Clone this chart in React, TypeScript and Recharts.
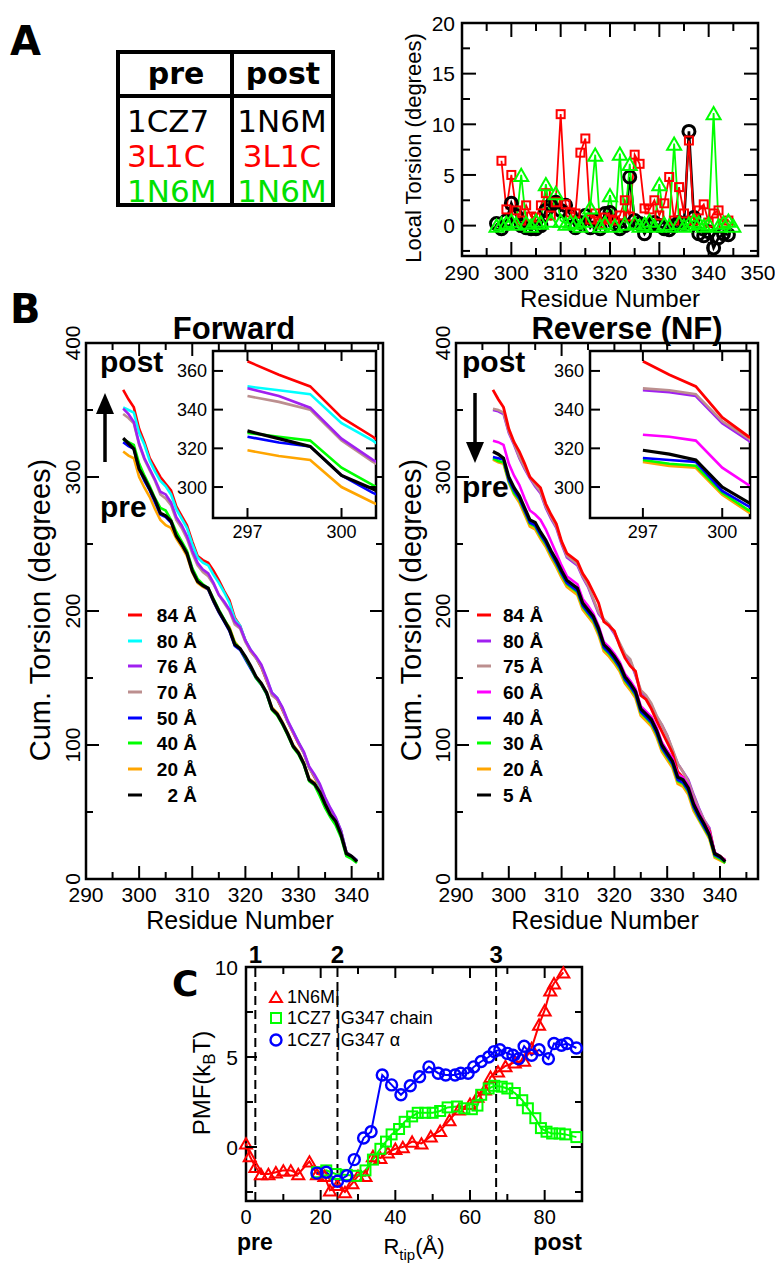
import React from 'react';
import { ComposedChart, Line, XAxis, YAxis, ReferenceArea, ReferenceLine } from 'recharts';

const SANS = '"Liberation Sans", Arial, Helvetica, sans-serif';
const DEJA = '"DejaVu Sans", sans-serif';

// ---------- Panel A: local torsion per residue ----------
const localResidues = [
  297, 298, 299, 300, 301, 302, 303, 304, 305, 306, 307, 308, 309, 310, 311, 312, 313,
  314, 315, 316, 317, 318, 319, 320, 321, 322, 323, 324, 325, 326, 327, 328, 329, 330,
  331, 332, 333, 334, 335, 336, 337, 338, 339, 340, 341, 342, 343, 344, 345,
];
const local1CZ7 = [
  0.2, -0.3, 0.5, 2.2, 1.0, 0.0, -0.2, -0.3, -0.3, 0.0, 1.5, 2.0, 2.3, 1.5, 2.0, 1.0, -0.2,
  0.3, 1.0, -0.2, 0.5, -0.3, 1.2, 1.3, 0.2, -0.3, 0.0, 4.8, 0.5, 0.2, -0.8, 0.0, 0.3, 0.0,
  -0.3, -0.4, 0.0, 0.3, 0.2, 9.3, 0.8, -0.8, -1.0, -0.6, -2.2, -1.2, -0.8, -0.9, null,
];
const local3L1C = [
  null, 6.4, 1.6, 5.0, 1.5, 0.5, 2.0, 0.9, 0.8, 2.0, 3.2, 1.0, 2.3, 11.0, 2.1, 1.3, 1.2,
  7.2, 8.6, 0.6, 1.2, 0.2, 0.8, 0.6, 0.5, 1.0, 2.5, 0.9, 7.0, 6.1, 1.7, 1.6, 2.5, 1.0,
  2.2, 4.8, 0.5, 3.8, 1.2, 8.4, 0.5, 1.5, 2.1, 0.3, 1.2, 1.5, 0.2, 0.5, null,
];
const local1N6M = [
  0.0, 0.2, 0.3, 0.5, 0.2, 5.0, 0.3, 0.0, 0.5, 0.3, 4.1, 0.5, 3.2, 0.5, 0.2, 0.4, 0.3,
  0.0, 0.5, 1.8, 7.0, 0.0, 0.3, 3.0, 0.0, 7.1, 0.2, 6.1, 0.3, 0.0, 0.2, 0.5, 0.0, 4.1,
  0.2, 0.0, 8.1, 0.3, 0.0, 0.2, 0.5, 0.3, 0.0, 0.2, 11.1, 0.0, 0.3, 0.5, 0.0,
];
const localXTicks = [290, 295, 300, 305, 310, 315, 320, 325, 330, 335, 340, 345, 350];
const localXMajor = [290, 300, 310, 320, 330, 340, 350];
const localYTicks = [-2.5, 0, 2.5, 5, 7.5, 10, 12.5, 15, 17.5, 20];
const localYMajor = [0, 5, 10, 15, 20];

const tableHead = ['pre', 'post'];
const tablePre = ['1CZ7', '3L1C', '1N6M'];
const tablePost = ['1N6M', '3L1C', '1N6M'];
const tableColors = ['#000000', '#ff0000', '#00e000'];

// ---------- Panel B: cumulative torsion, residues 297-341 ----------
const cumResidues = [
  297, 298, 299, 300, 301, 302, 303, 304, 305, 306, 307, 308, 309, 310, 311, 312, 313, 314,
  315, 316, 317, 318, 319, 320, 321, 322, 323, 324, 325, 326, 327, 328, 329, 330, 331, 332,
  333, 334, 335, 336, 337, 338, 339, 340, 341,
];
// Forward
const fwd84 = [365, 358, 352, 336, 326, 314, 307, 300, 295, 290, 278, 271, 264, 252, 241, 238, 236, 230, 223, 215, 208, 195, 189, 178, 170, 165, 158, 148, 138, 134, 126, 117, 109, 101, 94, 83, 76, 69, 60, 51, 44, 35, 20, 17, 14];
const fwd80 = [352, 350, 348, 333, 324, 312, 304, 297, 293, 287, 276, 269, 262, 250, 240, 236, 234, 227, 221, 214, 206, 194, 189, 178, 171, 165, 159, 149, 139, 135, 127, 117, 110, 102, 94, 83, 77, 69, 60, 52, 45, 36, 20, 17, 14];
const fwd76 = [351, 347, 341, 325, 314, 306, 298, 289, 287, 281, 270, 264, 256, 245, 236, 231, 228, 221, 212, 207, 201, 192, 188, 178, 171, 166, 160, 150, 139, 135, 128, 118, 110, 102, 95, 84, 78, 71, 61, 53, 46, 36, 20, 17, 14];
const fwd70 = [347, 344, 340, 324, 313, 305, 297, 287, 284, 279, 268, 262, 254, 243, 234, 229, 226, 220, 212, 206, 200, 190, 187, 177, 170, 165, 159, 148, 137, 134, 127, 117, 109, 102, 94, 83, 77, 70, 60, 52, 45, 36, 20, 17, 13];
const fwd50 = [326, 323, 321, 306, 297, 290, 281, 272, 270, 266, 257, 250, 243, 231, 223, 219, 216, 207, 199, 192, 185, 174, 171, 164, 157, 150, 145, 138, 127, 123, 116, 108, 99, 94, 86, 74, 71, 64, 55, 47, 42, 33, 19, 17, 13];
const fwd40 = [328, 326, 324, 310, 301, 293, 284, 277, 275, 268, 259, 252, 245, 232, 224, 220, 217, 209, 201, 194, 187, 176, 172, 165, 158, 150, 145, 138, 126, 122, 115, 107, 98, 93, 85, 73, 70, 62, 53, 46, 40, 31, 17, 15, 12];
const fwd20 = [319, 316, 314, 300, 292, 285, 276, 268, 264, 262, 254, 248, 241, 229, 221, 218, 216, 207, 199, 193, 188, 177, 172, 165, 158, 151, 146, 139, 128, 124, 117, 109, 100, 95, 87, 75, 72, 65, 55, 48, 42, 33, 19, 17, 13];
const fwd2 = [329, 325, 321, 306, 299, 291, 283, 273, 271, 267, 256, 250, 243, 230, 222, 219, 217, 208, 200, 193, 186, 175, 172, 166, 159, 151, 146, 139, 127, 123, 116, 108, 99, 94, 86, 74, 71, 65, 56, 48, 43, 33, 19, 17, 13];
// Reverse (NF)
const rev84 = [365, 358, 352, 336, 326, 319, 310, 300, 296, 292, 280, 272, 265, 252, 243, 240, 237, 228, 222, 214, 206, 192, 189, 185, 174, 165, 159, 155, 137, 134, 127, 118, 110, 102, 94, 80, 76, 66, 57, 49, 42, 36, 19, 17, 14];
const rev80 = [350, 349, 347, 333, 324, 314, 306, 299, 293, 288, 277, 269, 262, 250, 240, 237, 234, 225, 218, 208, 198, 193, 189, 183, 175, 167, 163, 152, 140, 136, 130, 121, 115, 107, 96, 86, 80, 74, 63, 53, 44, 38, 19, 17, 14];
const rev75 = [351, 350, 348, 334, 325, 315, 307, 300, 294, 289, 278, 270, 263, 251, 241, 238, 235, 226, 219, 209, 199, 194, 190, 184, 176, 168, 164, 153, 141, 137, 131, 122, 115, 107, 97, 86, 80, 73, 62, 52, 44, 37, 19, 17, 14];
const rev60 = [327, 326, 324, 310, 301, 294, 284, 275, 272, 268, 261, 252, 243, 234, 226, 223, 220, 209, 204, 198, 189, 177, 173, 168, 162, 153, 148, 142, 129, 125, 121, 113, 102, 96, 90, 78, 76, 70, 58, 50, 42, 35, 20, 17, 14];
const rev40 = [315, 314, 313, 298, 290, 284, 275, 266, 264, 257, 251, 243, 236, 228, 221, 218, 215, 204, 199, 194, 185, 173, 169, 164, 158, 149, 144, 138, 125, 121, 117, 109, 98, 92, 86, 74, 72, 66, 54, 46, 39, 32, 18, 16, 13];
const rev30 = [314, 312, 311, 297, 288, 283, 274, 265, 263, 256, 250, 242, 235, 227, 220, 217, 214, 203, 198, 193, 184, 172, 168, 163, 157, 148, 143, 137, 124, 120, 116, 108, 97, 91, 85, 73, 71, 65, 53, 45, 38, 31, 17, 15, 12];
const rev20 = [313, 311, 310, 296, 287, 281, 272, 263, 261, 254, 248, 240, 233, 225, 218, 215, 212, 201, 196, 191, 182, 170, 166, 161, 155, 146, 141, 135, 122, 118, 114, 106, 95, 89, 83, 71, 69, 63, 51, 44, 37, 30, 16, 14, 12];
const rev5 = [319, 317, 314, 300, 292, 286, 277, 268, 266, 259, 253, 245, 238, 230, 223, 220, 217, 206, 201, 196, 187, 175, 171, 166, 160, 151, 146, 140, 127, 123, 119, 111, 100, 94, 88, 76, 74, 68, 56, 48, 41, 33, 19, 17, 13];

const cumXTicks = [290, 295, 300, 305, 310, 315, 320, 325, 330, 335, 340, 345];
const cumXMajor = [290, 300, 310, 320, 330, 340];
const cumYTicks = [0, 50, 100, 150, 200, 250, 300, 350, 400];
const cumYMajor = [0, 100, 200, 300, 400];
const insetXTicks = [297, 300];
const insetYTicks = [300, 320, 340, 360];

const fwdLabels = ['84 Å', '80 Å', '76 Å', '70 Å', '50 Å', '40 Å', '20 Å', '2 Å'];
const revLabels = ['84 Å', '80 Å', '75 Å', '60 Å', '40 Å', '30 Å', '20 Å', '5 Å'];

// ---------- Panel C: PMF along R_tip ----------
const pmf1N6M_R = [0, 1, 2.5, 4, 6, 8, 10, 12, 14, 17, 19, 21, 22.5, 24.5, 26.5, 28.5, 30, 32, 34, 36, 38, 40, 42, 44.5, 47, 49.5, 52, 54.5, 57, 60, 62, 64, 65.5, 67.5, 69.5, 72, 74.5, 76.5, 78.5, 80, 81.5, 82.5, 85];
const pmf1N6M = [0.2, -0.5, -1.1, -1.5, -1.5, -1.4, -1.3, -1.3, -1.5, -0.8, -1.5, -1.6, -2.4, -2.1, -2.5, -2.0, -1.6, -1.6, -0.5, -0.6, -0.3, -0.1, 0.0, 0.3, 0.2, 0.6, 0.9, 1.5, 2.1, 2.4, 2.8, 3.2, 3.9, 4.2, 4.5, 4.7, 4.8, 5.5, 6.8, 7.6, 8.7, 9.1, 9.7];
const pmfChain_R = [19, 21.5, 24, 27, 29.5, 32, 34, 36, 37.5, 39, 41, 42.5, 44.5, 46, 48, 50, 52, 54, 56.5, 58.5, 60.5, 62, 63, 65, 66.5, 68.5, 70, 72, 74, 75.5, 77.5, 79, 80.5, 82, 84, 85.5, 88.5];
const pmfChain = [-1.4, -1.3, -1.5, -1.55, -1.6, -1.3, -0.7, -0.1, 0.3, 0.7, 1.0, 1.4, 1.7, 1.9, 1.9, 1.9, 2.0, 2.2, 2.25, 2.15, 2.1, 2.3, 2.9, 3.25, 3.4, 3.35, 3.25, 3.0, 2.6, 2.15, 1.6, 1.05, 0.85, 0.75, 0.75, 0.7, 0.55];
const pmfAlpha_R = [19, 21.5, 24.5, 27, 29, 31.5, 33.5, 36.5, 39, 41.5, 44, 46.5, 49, 51.5, 53.5, 56, 57.5, 59.5, 61, 63, 65, 66.5, 68, 70, 71.5, 73, 74.5, 76.5, 78.5, 81, 82.5, 84.5, 86, 88.5];
const pmfAlpha = [-1.45, -1.4, -1.9, -1.6, -0.7, 0.5, 0.85, 4.0, 3.45, 2.9, 3.4, 3.9, 4.45, 4.1, 4.0, 4.0, 4.1, 4.1, 4.45, 4.75, 5.0, 5.3, 5.4, 5.2, 5.1, 4.9, 5.6, 5.1, 5.4, 4.9, 5.75, 5.65, 5.75, 5.5];
const stageR = [2.5, 24.5, 67];
const stageLabels = ['1', '2', '3'];
const pmfXTicks = [0, 10, 20, 30, 40, 50, 60, 70, 80];
const pmfXMajor = [0, 20, 40, 60, 80];
const pmfYTicks = [-2.5, 0, 2.5, 5, 7.5, 10];
const pmfYMajor = [0, 5, 10];
const pmfLegend = ['1N6M|', '1CZ7 |G347 chain', '1CZ7 |G347 α'];

// ---------- styles ----------
const fwdStyle = [
  { key: 'f84', color: '#ff0000', w: 2.6 },
  { key: 'f80', color: '#00ffff', w: 2.6 },
  { key: 'f70', color: '#bc8f8f', w: 2.6 },
  { key: 'f76', color: '#a020f0', w: 2.6 },
  { key: 'f20', color: '#ffa500', w: 2.6 },
  { key: 'f50', color: '#0000ff', w: 2.6 },
  { key: 'f40', color: '#00ff00', w: 2.6 },
  { key: 'f2', color: '#000000', w: 3.2 },
];
const fwdLegendColors = ['#ff0000', '#00ffff', '#a020f0', '#bc8f8f', '#0000ff', '#00ff00', '#ffa500', '#000000'];
const revStyle = [
  { key: 'r80', color: '#a020f0', w: 2.6 },
  { key: 'r75', color: '#bc8f8f', w: 2.6 },
  { key: 'r84', color: '#ff0000', w: 2.8 },
  { key: 'r60', color: '#ff00ff', w: 2.6 },
  { key: 'r20', color: '#ffa500', w: 2.8 },
  { key: 'r30', color: '#00ff00', w: 2.6 },
  { key: 'r40', color: '#0000ff', w: 2.6 },
  { key: 'r5', color: '#000000', w: 3.2 },
];
const revLegendColors = ['#ff0000', '#a020f0', '#bc8f8f', '#ff00ff', '#0000ff', '#00ff00', '#ffa500', '#000000'];

const cumRows = cumResidues.map((r, i) => ({
  r,
  f84: fwd84[i], f80: fwd80[i], f76: fwd76[i], f70: fwd70[i],
  f50: fwd50[i], f40: fwd40[i], f20: fwd20[i], f2: fwd2[i],
  r84: rev84[i], r80: rev80[i], r75: rev75[i], r60: rev60[i],
  r40: rev40[i], r30: rev30[i], r20: rev20[i], r5: rev5[i],
}));

// ---------- tick renderers (inward ticks on all four sides) ----------
type TickOpts = {
  span: number;
  major: number[];
  big: number;
  small: number;
  size?: number;
  off?: number;
  rotate?: boolean;
};

const bottomTick = (o: TickOpts) => (p: any) => {
  const v = p.payload.value as number;
  const isMajor = o.major.includes(v);
  const len = isMajor ? o.big : o.small;
  return (
    <g>
      <line x1={p.x} x2={p.x} y1={p.y} y2={p.y - len} stroke="#000" strokeWidth={2} />
      <line x1={p.x} x2={p.x} y1={p.y - o.span} y2={p.y - o.span + len} stroke="#000" strokeWidth={2} />
      {isMajor && o.size ? (
        <text x={p.x} y={p.y + (o.off ?? 20)} textAnchor="middle" fontSize={o.size} fontFamily={SANS} fill="#000">
          {v}
        </text>
      ) : null}
    </g>
  );
};

const leftTick = (o: TickOpts) => (p: any) => {
  const v = p.payload.value as number;
  const isMajor = o.major.includes(v);
  const len = isMajor ? o.big : o.small;
  const tx = p.x - (o.off ?? 6);
  return (
    <g>
      <line x1={p.x} x2={p.x + len} y1={p.y} y2={p.y} stroke="#000" strokeWidth={2} />
      <line x1={p.x + o.span} x2={p.x + o.span - len} y1={p.y} y2={p.y} stroke="#000" strokeWidth={2} />
      {isMajor && o.size ? (
        o.rotate ? (
          <text transform={`rotate(-90 ${tx} ${p.y})`} x={tx} y={p.y} textAnchor="middle" fontSize={o.size} fontFamily={SANS} fill="#000">
            {v}
          </text>
        ) : (
          <text x={tx} y={p.y} dy="0.36em" textAnchor="end" fontSize={o.size} fontFamily={SANS} fill="#000">
            {v}
          </text>
        )
      ) : null}
    </g>
  );
};

// ---------- markers ----------
const circleDot = (color: string, r: number, sw: number) => (p: any) =>
  p.cx == null || p.cy == null || p.value == null ? (
    <g key={p.index} />
  ) : (
    <circle key={p.index} cx={p.cx} cy={p.cy} r={r} fill="none" stroke={color} strokeWidth={sw} />
  );

const squareDot = (color: string, s: number, sw: number) => (p: any) =>
  p.cx == null || p.cy == null || p.value == null ? (
    <g key={p.index} />
  ) : (
    <rect key={p.index} x={p.cx - s / 2} y={p.cy - s / 2} width={s} height={s} fill="none" stroke={color} strokeWidth={sw} />
  );

const triangleDot = (color: string, a: number, sw: number) => (p: any) => {
  if (p.cx == null || p.cy == null || p.value == null) return <g key={p.index} />;
  const h = a * 0.87;
  const d = `M${p.cx},${p.cy - h / 2} L${p.cx + a / 2},${p.cy + h / 2} L${p.cx - a / 2},${p.cy + h / 2} Z`;
  return <path key={p.index} d={d} fill="none" stroke={color} strokeWidth={sw} strokeLinejoin="miter" />;
};

// ---------- Panel A chart ----------
function LocalTorsionChart() {
  const rows = localResidues.map((r, i) => ({ r, a: local1CZ7[i], b: local3L1C[i], c: local1N6M[i] }));
  return (
    <ComposedChart width={375} height={290} data={rows} margin={{ top: 13, right: 17, bottom: 0, left: 0 }}>
      <XAxis
        type="number" dataKey="r" domain={[290, 350]} ticks={localXTicks} interval={0}
        height={44} tickSize={0} tickMargin={0} tickLine={false} axisLine={false}
        tick={bottomTick({ span: 233, major: localXMajor, big: 14, small: 8, size: 21, off: 24 })}
      />
      <YAxis
        type="number" domain={[-3, 20]} ticks={localYTicks} interval={0}
        width={62} tickSize={0} tickMargin={0} tickLine={false} axisLine={false}
        tick={leftTick({ span: 296, major: localYMajor, big: 14, small: 8, size: 21, off: 7 })}
      />
      <ReferenceArea x1={290} x2={350} y1={-3} y2={20} fill="none" stroke="#000" strokeWidth={2.5} />
      <Line dataKey="a" stroke="#000" strokeWidth={2.6} dot={circleDot('#000', 6, 3)} isAnimationActive={false} />
      <Line dataKey="b" stroke="#ff0000" strokeWidth={1.8} dot={squareDot('#ff0000', 8, 2)} isAnimationActive={false} />
      <Line dataKey="c" stroke="#00ff00" strokeWidth={1.8} dot={triangleDot('#00ff00', 14, 2)} isAnimationActive={false} />
    </ComposedChart>
  );
}

// ---------- Panel B charts ----------
function CumChart({ styles, xMax, plotW }: { styles: typeof fwdStyle; xMax: number; plotW: number }) {
  return (
    <ComposedChart width={66 + plotW + 17} height={600} data={cumRows} margin={{ top: 23, right: 17, bottom: 0, left: 0 }}>
      <XAxis
        type="number" dataKey="r" domain={[290, xMax]} ticks={cumXTicks} interval={0}
        height={41} tickSize={0} tickMargin={0} tickLine={false} axisLine={false}
        tick={bottomTick({ span: 536, major: cumXMajor, big: 13, small: 7, size: 21, off: 23 })}
      />
      <YAxis
        type="number" domain={[0, 400]} ticks={cumYTicks} interval={0}
        width={66} tickSize={0} tickMargin={0} tickLine={false} axisLine={false}
        tick={leftTick({ span: plotW, major: cumYMajor, big: 13, small: 7, size: 21, off: 6, rotate: true })}
      />
      <ReferenceArea x1={290} x2={xMax} y1={0} y2={400} fill="none" stroke="#000" strokeWidth={2.5} />
      {styles.map((s) => (
        <Line key={s.key} dataKey={s.key} stroke={s.color} strokeWidth={s.w} dot={false} isAnimationActive={false} />
      ))}
    </ComposedChart>
  );
}

function InsetChart({ styles, xDomain, yAxisW, plotW }: { styles: typeof fwdStyle; xDomain: [number, number]; yAxisW: number; plotW: number }) {
  return (
    <ComposedChart width={yAxisW + plotW + 5} height={205} data={cumRows} margin={{ top: 10, right: 5, bottom: 0, left: 0 }}>
      <XAxis
        type="number" dataKey="r" domain={xDomain} allowDataOverflow ticks={insetXTicks} interval={0}
        height={28} tickSize={0} tickMargin={0} tickLine={false} axisLine={false}
        tick={bottomTick({ span: 167, major: insetXTicks, big: 10, small: 5, size: 18, off: 20 })}
      />
      <YAxis
        type="number" domain={[284, 370.3]} allowDataOverflow ticks={insetYTicks} interval={0}
        width={yAxisW} tickSize={0} tickMargin={0} tickLine={false} axisLine={false}
        tick={leftTick({ span: plotW, major: insetYTicks, big: 10, small: 5, size: 18, off: 6 })}
      />
      <ReferenceArea x1={xDomain[0]} x2={xDomain[1]} y1={284} y2={370.3} fill="none" stroke="#000" strokeWidth={2.5} />
      {styles.map((s) => (
        <Line key={s.key} dataKey={s.key} stroke={s.color} strokeWidth={s.w} dot={false} isAnimationActive={false} />
      ))}
    </ComposedChart>
  );
}

// ---------- Panel C chart ----------
function PmfChart() {
  const red = pmf1N6M_R.map((r, i) => ({ r, v: pmf1N6M[i] }));
  const green = pmfChain_R.map((r, i) => ({ r, v: pmfChain[i] }));
  const blue = pmfAlpha_R.map((r, i) => ({ r, v: pmfAlpha[i] }));
  return (
    <ComposedChart width={410} height={340} margin={{ top: 37, right: 8, bottom: 0, left: 0 }}>
      <XAxis
        type="number" dataKey="r" domain={[0, 90]} ticks={pmfXTicks} interval={0}
        height={69} tickSize={0} tickMargin={0} tickLine={false} axisLine={false}
        tick={bottomTick({ span: 234, major: pmfXMajor, big: 11, small: 7, size: 20, off: 23 })}
      />
      <YAxis
        type="number" domain={[-3, 10]} ticks={pmfYTicks} interval={0}
        width={66} tickSize={0} tickMargin={0} tickLine={false} axisLine={false}
        tick={leftTick({ span: 336, major: pmfYMajor, big: 11, small: 7, size: 21, off: 8 })}
      />
      <ReferenceArea x1={0} x2={90} y1={-3} y2={10} fill="none" stroke="#000" strokeWidth={2.5} />
      {stageR.map((r, i) => (
        <ReferenceLine
          key={r} x={r} stroke="#000" strokeWidth={2} strokeDasharray="9 5"
          label={{ value: stageLabels[i], position: 'top', offset: 4, fontSize: 24, fontWeight: 'bold', fill: '#000', fontFamily: SANS }}
        />
      ))}
      <Line data={red} dataKey="v" stroke="#ff0000" strokeWidth={2} dot={triangleDot('#ff0000', 12, 2)} isAnimationActive={false} />
      <Line data={green} dataKey="v" stroke="#00ff00" strokeWidth={2} dot={squareDot('#00ff00', 10, 2)} isAnimationActive={false} />
      <Line data={blue} dataKey="v" stroke="#0000ff" strokeWidth={2} dot={circleDot('#0000ff', 5.5, 2.4)} isAnimationActive={false} />
    </ComposedChart>
  );
}

// ---------- overlay text ----------
const legendRowsY = [615, 641, 666, 692, 718, 743, 769, 795];
const pmfLegendY = [997, 1018, 1040];

function Overlay() {
  return (
    <svg width={780} height={1272} style={{ position: 'absolute', left: 0, top: 0, pointerEvents: 'none' }}>
      {/* panel letters */}
      <text x={10} y={55} fontFamily={DEJA} fontWeight="bold" fontSize={40}>A</text>
      <text x={10} y={323} fontFamily={DEJA} fontWeight="bold" fontSize={40}>B</text>
      <text x={172} y={996} fontFamily={DEJA} fontWeight="bold" fontSize={36}>C</text>

      {/* table */}
      <rect x={118} y={52} width={215} height={153} fill="none" stroke="#000" strokeWidth={4} />
      <line x1={118} x2={333} y1={96} y2={96} stroke="#000" strokeWidth={4} />
      <line x1={232} x2={232} y1={52} y2={205} stroke="#000" strokeWidth={4} />
      <text x={176} y={84} textAnchor="middle" fontFamily={DEJA} fontWeight="bold" fontSize={30}>{tableHead[0]}</text>
      <text x={283} y={84} textAnchor="middle" fontFamily={DEJA} fontWeight="bold" fontSize={30}>{tableHead[1]}</text>
      {tablePre.map((t, i) => (
        <text key={'p' + i} x={127} y={132 + i * 35} fontFamily={DEJA} fontSize={31} fill={tableColors[i]}>{t}</text>
      ))}
      {tablePost.map((t, i) => (
        <text key={'q' + i} x={282} y={132 + i * 35} textAnchor="middle" fontFamily={DEJA} fontSize={31} fill={tableColors[i]}>{t}</text>
      ))}

      {/* panel A axis titles */}
      <text transform="rotate(-90 421 148)" x={421} y={148} textAnchor="middle" fontFamily={SANS} fontSize={22}>Local Torsion (degrees)</text>
      <text x={610} y={307} textAnchor="middle" fontFamily={SANS} fontSize={24}>Residue Number</text>

      {/* panel B titles */}
      <text x={234} y={339} textAnchor="middle" fontFamily={SANS} fontWeight="bold" fontSize={31}>Forward</text>
      <text x={627} y={339} textAnchor="middle" fontFamily={SANS} fontWeight="bold" fontSize={31}>Reverse (NF)</text>
      <text transform="rotate(-90 50 610)" x={50} y={610} textAnchor="middle" fontFamily={SANS} fontSize={29}>Cum. Torsion (degrees)</text>
      <text transform="rotate(-90 421 610)" x={421} y={610} textAnchor="middle" fontFamily={SANS} fontSize={29}>Cum. Torsion (degrees)</text>
      <text x={240} y={929} textAnchor="middle" fontFamily={SANS} fontSize={25}>Residue Number</text>
      <text x={605} y={929} textAnchor="middle" fontFamily={SANS} fontSize={25}>Residue Number</text>

      {/* pre / post annotations */}
      <text x={100} y={372} fontFamily={SANS} fontWeight="bold" fontSize={30}>post</text>
      <text x={100} y={517} fontFamily={SANS} fontWeight="bold" fontSize={30}>pre</text>
      <line x1={105} x2={105} y1={462} y2={410} stroke="#000" strokeWidth={3.5} />
      <polygon points="96,414 114,414 105,393" fill="#000" />
      <text x={462} y={372} fontFamily={SANS} fontWeight="bold" fontSize={30}>post</text>
      <text x={462} y={497} fontFamily={SANS} fontWeight="bold" fontSize={30}>pre</text>
      <line x1={475} x2={475} y1={393} y2={445} stroke="#000" strokeWidth={3.5} />
      <polygon points="466,442 484,442 475,463" fill="#000" />

      {/* panel B legends */}
      {fwdLabels.map((t, i) => (
        <g key={'fl' + i}>
          <line x1={128} x2={142} y1={legendRowsY[i]} y2={legendRowsY[i]} stroke={fwdLegendColors[i]} strokeWidth={3} />
          <text x={197} y={legendRowsY[i] + 7} textAnchor="end" fontFamily={SANS} fontWeight="bold" fontSize={19}>{t}</text>
        </g>
      ))}
      {revLabels.map((t, i) => (
        <g key={'rl' + i}>
          <line x1={477} x2={491} y1={legendRowsY[i]} y2={legendRowsY[i]} stroke={revLegendColors[i]} strokeWidth={3} />
          <text x={503} y={legendRowsY[i] + 7} fontFamily={SANS} fontWeight="bold" fontSize={19}>{t}</text>
        </g>
      ))}

      {/* panel C legend */}
      <path d={`M276,${pmfLegendY[0] - 5} L282,${pmfLegendY[0] + 5} L270,${pmfLegendY[0] + 5} Z`} fill="none" stroke="#ff0000" strokeWidth={2} />
      <rect x={271} y={pmfLegendY[1] - 5} width={10} height={10} fill="none" stroke="#00ff00" strokeWidth={2} />
      <circle cx={276} cy={pmfLegendY[2]} r={5.5} fill="none" stroke="#0000ff" strokeWidth={2.4} />
      {pmfLegend.map((t, i) => (
        <text key={'cl' + i} x={287} y={pmfLegendY[i] + 6} fontFamily={SANS} fontSize={18}>{t}</text>
      ))}

      {/* panel C axis titles */}
      <text transform="rotate(-90 210 1083)" x={210} y={1083} textAnchor="middle" fontFamily={SANS} fontSize={24}>
        PMF(k<tspan dy={5} fontSize={17}>B</tspan><tspan dy={-5}>T)</tspan>
      </text>
      <text x={414} y={1254} textAnchor="middle" fontFamily={SANS} fontSize={22}>
        R<tspan dy={6} fontSize={15}>tip</tspan><tspan dy={-6}>(Å)</tspan>
      </text>
      <text x={237} y={1250} fontFamily={SANS} fontWeight="bold" fontSize={23}>pre</text>
      <text x={582} y={1250} textAnchor="end" fontFamily={SANS} fontWeight="bold" fontSize={23}>post</text>
    </svg>
  );
}

export default function App() {
  return (
    <div style={{ position: 'absolute', left: 0, top: 0, width: 780, height: 1272, background: '#fff', overflow: 'hidden' }}>
      <div style={{ position: 'absolute', left: 400, top: 10 }}>
        <LocalTorsionChart />
      </div>
      <div style={{ position: 'absolute', left: 20, top: 320 }}>
        <CumChart styles={fwdStyle} xMax={345.9} plotW={297} />
      </div>
      <div style={{ position: 'absolute', left: 390, top: 320 }}>
        <CumChart styles={revStyle} xMax={347.2} plotW={302} />
      </div>
      <div style={{ position: 'absolute', left: 213, top: 351, width: 163, height: 167, background: '#fff' }} />
      <div style={{ position: 'absolute', left: 160, top: 341 }}>
        <InsetChart styles={fwdStyle} xDomain={[295.9, 301.1]} yAxisW={53} plotW={163} />
      </div>
      <div style={{ position: 'absolute', left: 590, top: 351, width: 160, height: 167, background: '#fff' }} />
      <div style={{ position: 'absolute', left: 530, top: 341 }}>
        <InsetChart styles={revStyle} xDomain={[295, 301.05]} yAxisW={60} plotW={160} />
      </div>
      <div style={{ position: 'absolute', left: 180, top: 930 }}>
        <PmfChart />
      </div>
      <Overlay />
    </div>
  );
}
